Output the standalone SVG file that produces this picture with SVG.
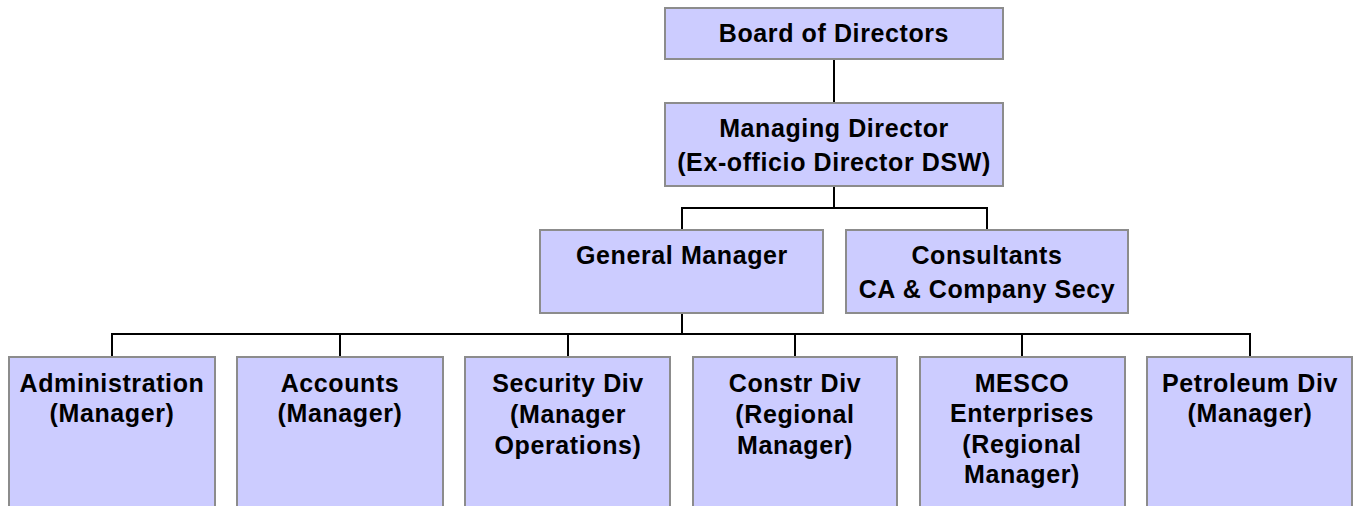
<svg xmlns="http://www.w3.org/2000/svg" width="1356" height="506" viewBox="0 0 1356 506">
  <style>
    .box { fill: #ccccff; stroke: #8c8c8c; stroke-width: 2; }
    .lbl { font-family: "Liberation Sans", Arial, sans-serif; font-weight: bold; font-size: 25px; letter-spacing: 0.6px; fill: #000; text-anchor: middle; }
    .wire { fill: none; stroke: #000; stroke-width: 2; }
  </style>
  <rect width="1356" height="506" fill="#fff"/>

  <g id="connectors">
    <path class="wire" d="M834 59 V103"/>
    <path class="wire" d="M834 186 V208 M682 230 V208 H987 V230"/>
    <path class="wire" d="M682 313 V334 M112 357 V334 H1250 V357 M340 334 V357 M568 334 V357 M795 334 V357 M1022 334 V357"/>
  </g>

  <g id="board">
    <rect class="box" x="665" y="8" width="338" height="51"/>
    <text class="lbl" x="834" y="42">Board of Directors</text>
  </g>

  <g id="managing-director">
    <rect class="box" x="665" y="103" width="338" height="83"/>
    <text class="lbl" x="834" y="137">Managing Director</text>
    <text class="lbl" x="834" y="171">(Ex-officio Director DSW)</text>
  </g>

  <g id="general-manager">
    <rect class="box" x="540" y="230" width="283" height="83"/>
    <text class="lbl" x="682" y="264">General Manager</text>
  </g>

  <g id="consultants">
    <rect class="box" x="846" y="230" width="282" height="83"/>
    <text class="lbl" x="987" y="264">Consultants</text>
    <text class="lbl" x="987" y="298">CA &amp; Company Secy</text>
  </g>

  <g id="administration">
    <rect class="box" x="9" y="357" width="206" height="160"/>
    <text class="lbl" x="112" y="392">Administration</text>
    <text class="lbl" x="112" y="422">(Manager)</text>
  </g>

  <g id="accounts">
    <rect class="box" x="237" y="357" width="206" height="160"/>
    <text class="lbl" x="340" y="392">Accounts</text>
    <text class="lbl" x="340" y="422">(Manager)</text>
  </g>

  <g id="security-div">
    <rect class="box" x="465" y="357" width="205" height="160"/>
    <text class="lbl" x="568" y="392">Security Div</text>
    <text class="lbl" x="568" y="423">(Manager</text>
    <text class="lbl" x="568" y="454">Operations)</text>
  </g>

  <g id="constr-div">
    <rect class="box" x="693" y="357" width="204" height="160"/>
    <text class="lbl" x="795" y="392">Constr Div</text>
    <text class="lbl" x="795" y="423">(Regional</text>
    <text class="lbl" x="795" y="454">Manager)</text>
  </g>

  <g id="mesco">
    <rect class="box" x="920" y="357" width="205" height="160"/>
    <text class="lbl" x="1022" y="392">MESCO</text>
    <text class="lbl" x="1022" y="422">Enterprises</text>
    <text class="lbl" x="1022" y="453">(Regional</text>
    <text class="lbl" x="1022" y="483">Manager)</text>
  </g>

  <g id="petroleum-div">
    <rect class="box" x="1147" y="357" width="205" height="160"/>
    <text class="lbl" x="1250" y="392">Petroleum Div</text>
    <text class="lbl" x="1250" y="422">(Manager)</text>
  </g>
</svg>
